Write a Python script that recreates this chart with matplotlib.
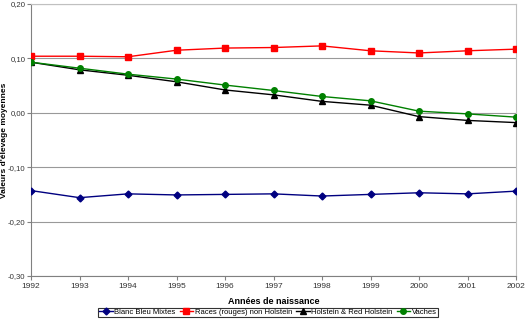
import matplotlib
matplotlib.use("Agg")
import matplotlib.pyplot as plt

years = [1992, 1993, 1994, 1995, 1996, 1997, 1998, 1999, 2000, 2001, 2002]
year_labels = ["1992", "1993", "1994", "1995", "1996", "1997", "1998", "1999", "2000", "2001", "2002"]
bbm = [-0.143, -0.156, -0.149, -0.151, -0.150, -0.149, -0.153, -0.150, -0.147, -0.149, -0.144]
races = [0.104, 0.104, 0.103, 0.115, 0.119, 0.120, 0.123, 0.114, 0.110, 0.114, 0.117]
holstein = [0.093, 0.079, 0.069, 0.057, 0.042, 0.033, 0.021, 0.014, -0.007, -0.014, -0.018]
vaches = [0.093, 0.082, 0.071, 0.062, 0.051, 0.041, 0.030, 0.022, 0.003, -0.002, -0.008]
yticks = [-0.30, -0.20, -0.10, 0.00, 0.10, 0.20]
ytick_labels = ["-0,30", "-0,20", "-0,10", "0,00", "0,10", "0,20"]

plt.rcParams['font.family'] = ['Liberation Sans', 'DejaVu Sans']

fig = plt.figure(figsize=(5.25, 3.19), dpi=100)
ax = fig.add_axes([31/525, 1-276/319, (516-31)/525, (276-4)/319])

x = list(range(len(years)))
ax.plot(x, bbm, color='#000080', marker='D', markersize=3.5, lw=1, label='Blanc Bleu Mixtes', zorder=3)
ax.plot(x, races, color='#ff0000', marker='s', markersize=4.5, lw=1, label='Races (rouges) non Holstein', zorder=3)
ax.plot(x, holstein, color='#000000', marker='^', markersize=4.5, lw=1, label='Holstein & Red Holstein', zorder=3)
ax.plot(x, vaches, color='#008000', marker='o', markersize=4, lw=1, label='Vaches', zorder=4)

ax.set_xlim(0, len(years)-1)
ax.set_ylim(-0.30, 0.20)
ax.set_yticks(yticks)
ax.set_yticklabels(ytick_labels, fontsize=5.6, color='#333333')
ax.set_xticks(x)
ax.set_xticklabels(year_labels, fontsize=6, color='#333333')
ax.grid(axis='y', color='#999999', lw=0.8)
ax.set_axisbelow(True)
for s in ['top', 'right']:
    ax.spines[s].set_color('#c0c0c0')
ax.spines['left'].set_color('#808080')
ax.spines['bottom'].set_color('#808080')
ax.tick_params(axis='x', length=3, width=0.8, color='#808080', pad=2)
ax.tick_params(axis='y', length=3, width=0.8, color='#808080', pad=1)

ax.set_xlabel('Années de naissance', fontsize=6.5, fontweight='bold', labelpad=5)
fig.text(4.2/525, 1-140/319, "Valeurs d'élevage moyennes", rotation=90, fontsize=6,
         fontweight='bold', ha='center', va='center')

leg = fig.legend(loc='upper center', bbox_to_anchor=(268/525, 1-307.5/319), ncol=4, fontsize=5.5,
                 frameon=True, fancybox=False, edgecolor='black', handlelength=1.8,
                 handletextpad=0.2, columnspacing=0.5, borderpad=0.15, borderaxespad=0)
leg.get_frame().set_linewidth(0.8)

fig.savefig('out.png', dpi=100)
